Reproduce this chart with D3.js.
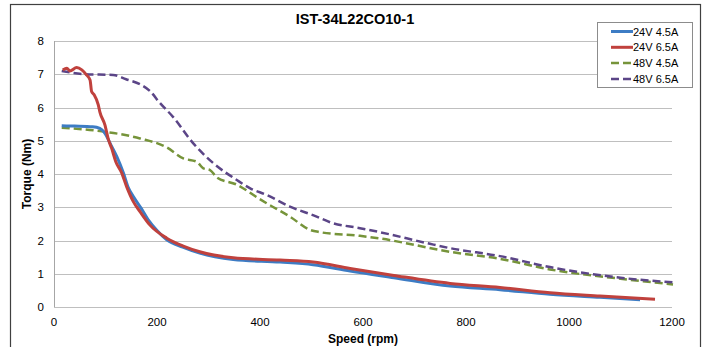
<!DOCTYPE html>
<html lang="en">
<head>
<meta charset="UTF-8">
<title>IST-34L22CO10-1</title>
<script src="https://cdn.jsdelivr.net/npm/d3@7/dist/d3.min.js"></script>
<style>
  body { margin: 0; background: #fff; }
  text { font-family: "Liberation Sans", Arial, sans-serif; }
</style>
</head>
<body>
<script>
    const title = 'IST-34L22CO10-1';
    const seriesNames = ['24V 4.5A', '24V 6.5A', '48V 4.5A', '48V 6.5A'];
    const xTicks = [0, 200, 400, 600, 800, 1000, 1200];
    const yTicks = [0, 1, 2, 3, 4, 5, 6, 7, 8];

    // 24V 4.5A
    const speedA = [15, 40, 75, 89, 100, 109, 122, 135, 144, 155, 170, 183, 200, 219, 250, 283, 348, 439, 503, 575, 660, 769, 866, 963, 1060, 1138];
    const torqueA = [5.45, 5.44, 5.42, 5.37, 5.2, 4.92, 4.52, 4.02, 3.6, 3.3, 2.95, 2.62, 2.3, 2.02, 1.8, 1.62, 1.43, 1.35, 1.27, 1.08, 0.88, 0.63, 0.52, 0.38, 0.29, 0.22];
    // 24V 6.5A
    const speedB = [17, 25, 31, 44, 54, 63, 70, 73, 78, 86, 89, 99, 105, 112, 120, 131, 141, 154, 167, 186, 219, 251, 283, 348, 439, 503, 575, 660, 769, 866, 963, 1060, 1167];
    const torqueB = [7.13, 7.18, 7.1, 7.2, 7.13, 6.98, 6.83, 6.48, 6.38, 6.08, 5.87, 5.47, 5.07, 4.77, 4.37, 4.05, 3.62, 3.17, 2.87, 2.47, 2.07, 1.83, 1.66, 1.48, 1.41, 1.35, 1.16, 0.95, 0.71, 0.59, 0.43, 0.33, 0.23];
    // 48V 4.5A
    const speedC = [15, 89, 167, 219, 251, 277, 290, 303, 316, 355, 394, 413, 458, 497, 517, 594, 633, 769, 866, 963, 1100, 1202];
    const torqueC = [5.39, 5.29, 5.07, 4.8, 4.47, 4.37, 4.17, 4.12, 3.9, 3.68, 3.3, 3.12, 2.72, 2.32, 2.25, 2.14, 2.06, 1.66, 1.45, 1.13, 0.85, 0.68];
    // 48V 6.5A
    const speedD = [15, 60, 115, 140, 167, 186, 206, 231, 270, 309, 355, 381, 413, 458, 510, 536, 594, 633, 730, 769, 866, 963, 1100, 1202];
    const torqueD = [7.1, 7.0, 6.98, 6.85, 6.7, 6.5, 6.13, 5.72, 4.93, 4.33, 3.82, 3.57, 3.37, 3.02, 2.72, 2.55, 2.37, 2.25, 1.9, 1.77, 1.53, 1.2, 0.88, 0.74];

    const w = 710, h = 347;
    const colors = ['#3d7cc4', '#c0413d', '#76943a', '#5b4587'];
    const dashed = [false, false, true, true];
    const speeds = [speedA, speedB, speedC, speedD];
    const torques = [torqueA, torqueB, torqueC, torqueD];

    let svg = d3.select('body')
        .append('svg')
        .attr('width', w)
        .attr('height', h);

    // 外框
    svg.append('rect')
        .attr('x', 10.5).attr('y', 4.5)
        .attr('width', 690).attr('height', 360)
        .attr('fill', 'none')
        .attr('stroke', '#404040')
        .attr('stroke-width', 1.2);

    let xScale = d3.scaleLinear().domain([0, 1200]).range([54, 672]);
    let yScale = d3.scaleLinear().domain([0, 8]).range([307, 41]);

    // 网格线
    svg.append('g')
        .selectAll('line')
        .data(yTicks)
        .enter()
        .append('line')
        .attr('x1', xScale(0))
        .attr('x2', xScale(1200))
        .attr('y1', d => Math.round(yScale(d)) + 0.5)
        .attr('y2', d => Math.round(yScale(d)) + 0.5)
        .attr('stroke', '#bfbfbf')
        .attr('stroke-width', 1);

    svg.append('line')
        .attr('x1', xScale(0) + 0.5).attr('x2', xScale(0) + 0.5)
        .attr('y1', yScale(8)).attr('y2', yScale(0))
        .attr('stroke', '#a6a6a6');

    // 刻度
    svg.append('g')
        .selectAll('text')
        .data(yTicks)
        .enter()
        .append('text')
        .text(d => d)
        .attr('x', 44)
        .attr('y', d => yScale(d) + 4)
        .attr('text-anchor', 'end')
        .attr('font-size', '11.5px')
        .attr('fill', '#000');

    svg.append('g')
        .selectAll('text')
        .data(xTicks)
        .enter()
        .append('text')
        .text(d => d)
        .attr('x', d => xScale(d))
        .attr('y', 326)
        .attr('text-anchor', 'middle')
        .attr('font-size', '11.5px')
        .attr('fill', '#000');

    // 曲线
    let line = d3.line()
        .x(d => xScale(d[0]))
        .y(d => yScale(d[1]))
        .curve(d3.curveMonotoneX);

    // draw order: dashed first, then solid
    [2, 3, 0, 1].forEach(i => {
        let pts = speeds[i].map((s, j) => [s, torques[i][j]]);
        svg.append('path')
            .datum(pts)
            .attr('d', line)
            .attr('fill', 'none')
            .attr('stroke', colors[i])
            .attr('stroke-width', dashed[i] ? 2.5 : 3)
            .attr('stroke-dasharray', dashed[i] ? '8,4' : null)
            .attr('stroke-linejoin', 'round');
    });

    // 标题和轴标签
    svg.append('text')
        .text(title)
        .attr('x', 355)
        .attr('y', 24)
        .attr('text-anchor', 'middle')
        .attr('font-size', '14.5px')
        .attr('font-weight', 'bold');

    svg.append('text')
        .text('Speed (rpm)')
        .attr('x', xScale(600))
        .attr('y', 343)
        .attr('text-anchor', 'middle')
        .attr('font-size', '12px')
        .attr('font-weight', 'bold');

    svg.append('text')
        .text('Torque (Nm)')
        .attr('transform', 'translate(31,' + yScale(4) + ') rotate(-90)')
        .attr('text-anchor', 'middle')
        .attr('font-size', '12px')
        .attr('font-weight', 'bold');

    // 图例
    let legend = svg.append('g');
    legend.append('rect')
        .attr('x', 597.5).attr('y', 22.5)
        .attr('width', 95).attr('height', 65)
        .attr('fill', '#fff')
        .attr('stroke', '#8c8c8c');
    let items = legend.selectAll('g.item')
        .data(seriesNames)
        .enter()
        .append('g')
        .attr('transform', (d, i) => 'translate(0,' + (31.5 + i * 15.8) + ')');
    items.append('line')
        .attr('x1', 611).attr('x2', 633)
        .attr('y1', 0).attr('y2', 0)
        .attr('stroke', (d, i) => colors[i])
        .attr('stroke-width', (d, i) => dashed[i] ? 2.5 : 3)
        .attr('stroke-dasharray', (d, i) => dashed[i] ? '8,4' : null);
    items.append('text')
        .text(d => d)
        .attr('x', 633)
        .attr('y', 4)
        .attr('font-size', '11px');
</script>
</body>
</html>
